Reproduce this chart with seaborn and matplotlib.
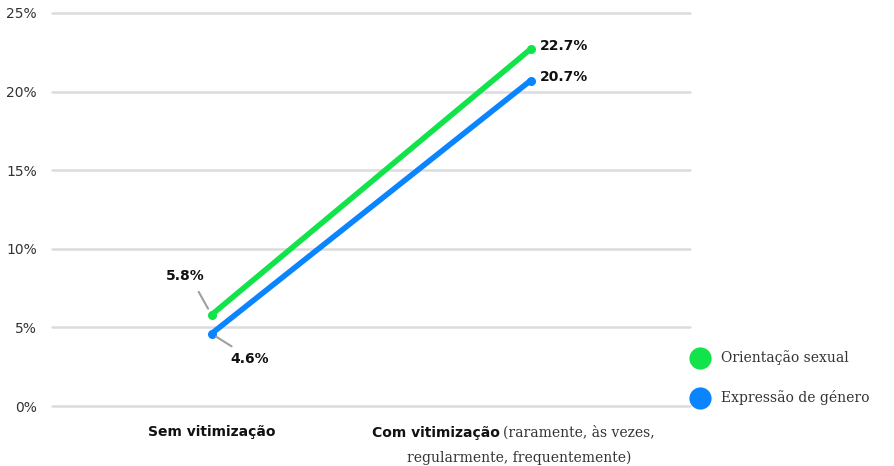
import pandas as pd
import seaborn as sns
import matplotlib.pyplot as plt
from matplotlib.lines import Line2D

categorias = ['Sem vitimização', 'Com vitimização']
series = ['Orientação sexual', 'Expressão de género']
orientacao = [5.8, 22.7]
expressao = [4.6, 20.7]
yticks = [0, 5, 10, 15, 20, 25]
cores = ['#10e44a', '#0a84ff']

df = pd.DataFrame({
    'x': [0, 1, 0, 1],
    'valor': orientacao + expressao,
    'serie': [series[0]] * 2 + [series[1]] * 2,
})

sns.set_style('white')
plt.rcParams['font.family'] = ['DejaVu Sans']

fig = plt.figure(figsize=(8.95, 4.66), dpi=100)
ax = fig.add_axes([52 / 895, 60 / 466, 638 / 895, 393 / 466])

for y in yticks:
    ax.axhline(y, color='#dcdcdc', lw=1.8, zorder=0, clip_on=False)

sns.lineplot(data=df, x='x', y='valor', hue='serie', palette=cores,
             linewidth=4.0, marker='o', markersize=6.5, markeredgewidth=0,
             legend=False, ax=ax, zorder=3)
for l in ax.lines:
    l.set_solid_capstyle('round')
    l.set_clip_on(False)

ax.set_xlim(-0.5, 1.5)
ax.set_ylim(0, 25)
ax.set_yticks(yticks)
ax.set_yticklabels([f'{v}%' for v in yticks], fontsize=10, color='#333333')
ax.tick_params(axis='y', length=0, pad=11)
ax.set_xticks([0])
ax.set_xticklabels([categorias[0]], fontsize=10, fontweight='bold', color='#111111')
ax.tick_params(axis='x', length=0, pad=14)
ax.set_xlabel('')
ax.set_ylabel('')
for s in ax.spines.values():
    s.set_visible(False)

# rótulo da segunda categoria (negrito + texto normal)
trans = ax.get_xaxis_transform()
ax.text(0.905, -0.068, categorias[1], transform=trans, ha='right', va='center',
        fontsize=10, fontweight='bold', color='#111111')
ax.text(0.915, -0.068, '(raramente, às vezes,', transform=trans, ha='left', va='center',
        fontsize=10, color='#333333', family='DejaVu Serif')
ax.text(0.966, -0.132, 'regularmente, frequentemente)', transform=trans, ha='center', va='center',
        fontsize=10, color='#333333', family='DejaVu Serif')

# rótulos dos valores
ax.annotate(f'{orientacao[0]}%', xy=(0, orientacao[0]), xytext=(-0.02, 8.3),
            ha='right', va='center', fontsize=10, fontweight='bold', color='#111111',
            arrowprops=dict(arrowstyle='-', color='#a0a0a0', lw=1.5, relpos=(0.7, 0),
                            shrinkA=5, shrinkB=5))
ax.annotate(f'{expressao[0]}%', xy=(0, expressao[0]), xytext=(0.06, 3.0),
            ha='left', va='center', fontsize=10, fontweight='bold', color='#111111',
            arrowprops=dict(arrowstyle='-', color='#a0a0a0', lw=1.5, relpos=(0.25, 1),
                            shrinkA=3, shrinkB=4))
ax.text(1.03, orientacao[1] + 0.2, f'{orientacao[1]}%', ha='left', va='center',
        fontsize=10, fontweight='bold', color='#111111')
ax.text(1.03, expressao[1] + 0.2, f'{expressao[1]}%', ha='left', va='center',
        fontsize=10, fontweight='bold', color='#111111')

handles = [Line2D([], [], marker='o', ls='', markersize=16, color=c, markeredgewidth=0)
           for c in cores]
leg = fig.legend(handles, series, loc='lower left', bbox_to_anchor=(681 / 895, 55 / 466),
                 frameon=False, handletextpad=0.45, labelspacing=1.8, borderaxespad=0,
                 prop={'family': 'DejaVu Serif', 'size': 10})
for t in leg.get_texts():
    t.set_color('#333333')

fig.savefig('out.png', dpi=100)
